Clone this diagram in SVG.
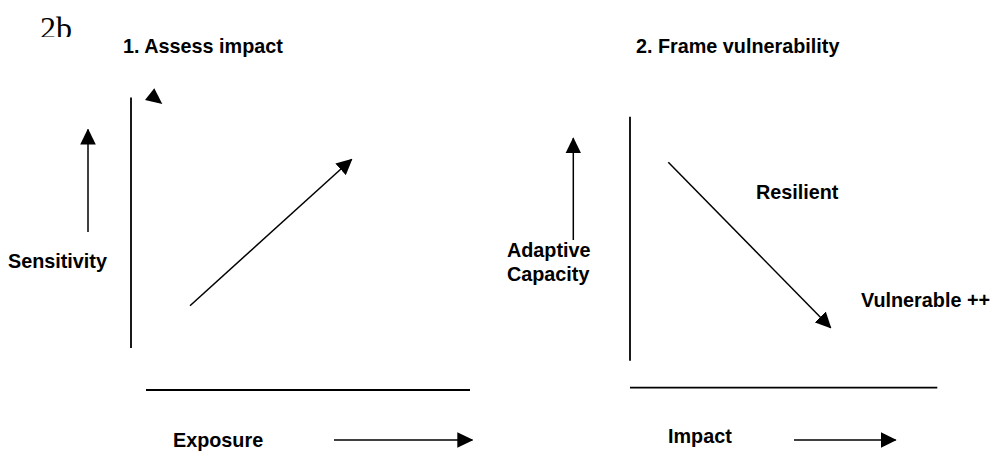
<svg xmlns="http://www.w3.org/2000/svg" width="991" height="451" viewBox="0 0 991 451">
<style>
  .lbl { font-family: "Liberation Sans", Arial, sans-serif; font-weight: bold; font-size: 19.8px; fill: #000; }
  .axis { stroke: #000; stroke-width: 1.8; fill: none; }
  .arr { stroke: #000; stroke-width: 1.5; fill: none; marker-end: url(#head); }
</style>
<defs>
  <marker id="head" viewBox="0 0 16 16" refX="15" refY="8" markerWidth="16" markerHeight="16" markerUnits="userSpaceOnUse" orient="auto">
    <path d="M0,0.2 L16,8 L0,15.8 z" fill="#000"/>
  </marker>
  <clipPath id="clip2b"><rect x="0" y="0" width="120" height="37"/></clipPath>
</defs>
<rect width="991" height="451" fill="#fff"/>

<g id="tag">
  <text x="40" y="39" clip-path="url(#clip2b)" font-family="'Liberation Serif', serif" font-size="32" fill="#000">2b</text>
</g>

<g id="panel1">
  <g id="title1"><text class="lbl" x="123" y="53">1. Assess impact</text></g>
  <g id="sensitivity"><text class="lbl" x="8" y="268">Sensitivity</text></g>
  <g id="exposure"><text class="lbl" x="173" y="447">Exposure</text></g>
</g>

<g id="panel2">
  <g id="title2"><text class="lbl" x="636" y="53">2. Frame vulnerability</text></g>
  <g id="adaptive"><text class="lbl" x="507" y="257">Adaptive</text><text class="lbl" x="507" y="280.5">Capacity</text></g>
  <g id="resilient"><text class="lbl" x="756" y="199">Resilient</text></g>
  <g id="vulnerable"><text class="lbl" x="861" y="307">Vulnerable ++</text></g>
  <g id="impact"><text class="lbl" x="668" y="443">Impact</text></g>
</g>

<g id="connectors">
  <!-- panel 1 -->
  <line class="axis" x1="131" y1="97.5" x2="131" y2="348"/>
  <line class="axis" x1="146" y1="390" x2="470" y2="390"/>
  <line class="arr" x1="88" y1="232" x2="88" y2="129.5"/>
  <polygon points="154.3,88.3 145,100 162.3,104" fill="#000"/>
  <line class="arr" x1="190" y1="305.7" x2="351.7" y2="159.3"/>
  <line class="arr" x1="334" y1="440" x2="472.3" y2="440"/>
  <!-- panel 2 -->
  <line class="axis" x1="630" y1="116.7" x2="630" y2="360.7"/>
  <line class="axis" x1="630" y1="387.7" x2="937.3" y2="387.7"/>
  <line class="arr" x1="573.3" y1="240" x2="573.3" y2="138.3"/>
  <line class="arr" x1="668.3" y1="162.3" x2="830.7" y2="327.7"/>
  <line class="arr" x1="794" y1="440" x2="895.7" y2="440"/>
</g>
</svg>
